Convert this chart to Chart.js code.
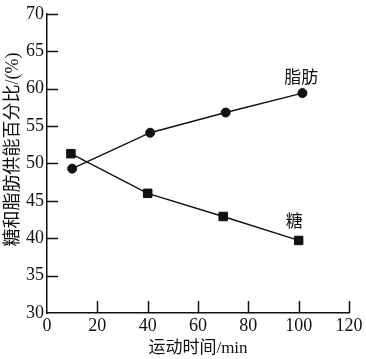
<!DOCTYPE html>
<html>
<head>
<meta charset="utf-8">
<script src="https://cdn.jsdelivr.net/npm/chart.js@4"></script>
<style>
html,body{margin:0;padding:0;background:#fff;}
#wrap{width:366px;height:359px;}
</style>
</head>
<body>
<div id="wrap"><canvas id="c" width="366" height="359"></canvas></div>
<script>
const fatTime = [10, 41, 71, 101.5];
const fatShare = [49.3, 54.1, 56.8, 59.4];
const sugarTime = [9.5, 40, 70, 100];
const sugarShare = [51.3, 46.0, 42.9, 39.7];
const xTicks = [0, 20, 40, 60, 80, 100, 120];
const yTicks = [30, 35, 40, 45, 50, 55, 60, 65, 70];
const seriesNames = ['脂肪', '糖'];
const labelAnchors = [[101, 61.6], [98.2, 42.4]];
const xTitle = '运动时间/min';
const yTitle = '糖和脂肪供能百分比/(%)';

const serif = "'Liberation Serif', 'DejaVu Serif', serif";
const mixed = "'Liberation Serif', 'Noto Sans CJK SC', serif";
const cjk = "'Noto Sans CJK SC', sans-serif";

const innerTicks = {
  id: 'innerTicks',
  afterDraw(chart) {
    const {ctx, scales: {x, y}, chartArea: a} = chart;
    ctx.save();
    ctx.strokeStyle = '#111';
    ctx.lineWidth = 1.5;
    yTicks.slice(1).forEach(v => {
      const py = Math.round(y.getPixelForValue(v)) + 0.5;
      ctx.beginPath(); ctx.moveTo(a.left, py); ctx.lineTo(a.left + 11, py); ctx.stroke();
    });
    xTicks.slice(1).forEach(v => {
      const px = Math.round(x.getPixelForValue(v)) + 0.5;
      ctx.beginPath(); ctx.moveTo(px, a.bottom); ctx.lineTo(px, a.bottom - 12); ctx.stroke();
    });
    ctx.fillStyle = '#111';
    ctx.font = "17px " + cjk;
    ctx.textAlign = 'center';
    ctx.textBaseline = 'middle';
    seriesNames.forEach((n, i) => {
      ctx.fillText(n, x.getPixelForValue(labelAnchors[i][0]), y.getPixelForValue(labelAnchors[i][1]));
    });
    // y axis title
    ctx.translate(13, (a.top + a.bottom) / 2 - 14);
    ctx.rotate(-Math.PI / 2);
    ctx.font = "18px " + mixed;
    ctx.fillText(yTitle, 0, 0);
    ctx.restore();
  }
};

new Chart(document.getElementById('c'), {
  type: 'line',
  data: {
    datasets: [
      {
        label: seriesNames[0],
        data: fatTime.map((t, i) => ({x: t, y: fatShare[i]})),
        borderColor: '#111', backgroundColor: '#111', borderWidth: 1.4,
        pointStyle: 'circle', pointRadius: 4.5, pointHoverRadius: 4.5, pointBorderWidth: 1
      },
      {
        label: seriesNames[1],
        data: sugarTime.map((t, i) => ({x: t, y: sugarShare[i]})),
        borderColor: '#111', backgroundColor: '#111', borderWidth: 1.4,
        pointStyle: 'rect', pointRadius: 6, pointHoverRadius: 6, pointBorderWidth: 1
      }
    ]
  },
  options: {
    responsive: false,
    animation: false,
    devicePixelRatio: 1,
    layout: {padding: {top: 12, right: 17, left: 0, bottom: 0}},
    plugins: {legend: {display: false}, tooltip: {enabled: false}},
    scales: {
      x: {
        type: 'linear', min: 0, max: 120,
        afterBuildTicks(s) { s.ticks = xTicks.map(v => ({value: v})); },
        afterFit(s) { s.height = 46; },
        grid: {display: true, drawOnChartArea: false, drawTicks: false},
        border: {display: true, color: '#111', width: 1.5},
        ticks: {color: '#111', padding: 2, maxRotation: 0, font: {family: serif, size: 18}},
        title: {display: true, text: xTitle, color: '#111', padding: {top: 2, bottom: 0}, font: {family: mixed, size: 17}}
      },
      y: {
        type: 'linear', min: 30, max: 70,
        afterBuildTicks(s) { s.ticks = yTicks.map(v => ({value: v})); },
        afterFit(s) { s.width = 47; },
        grid: {display: true, drawOnChartArea: false, drawTicks: false},
        border: {display: true, color: '#111', width: 1.5},
        ticks: {color: '#111', padding: 3, font: {family: serif, size: 18}},
        title: {display: false, text: yTitle}
      }
    }
  },
  plugins: [innerTicks]
});
</script>
</body>
</html>
